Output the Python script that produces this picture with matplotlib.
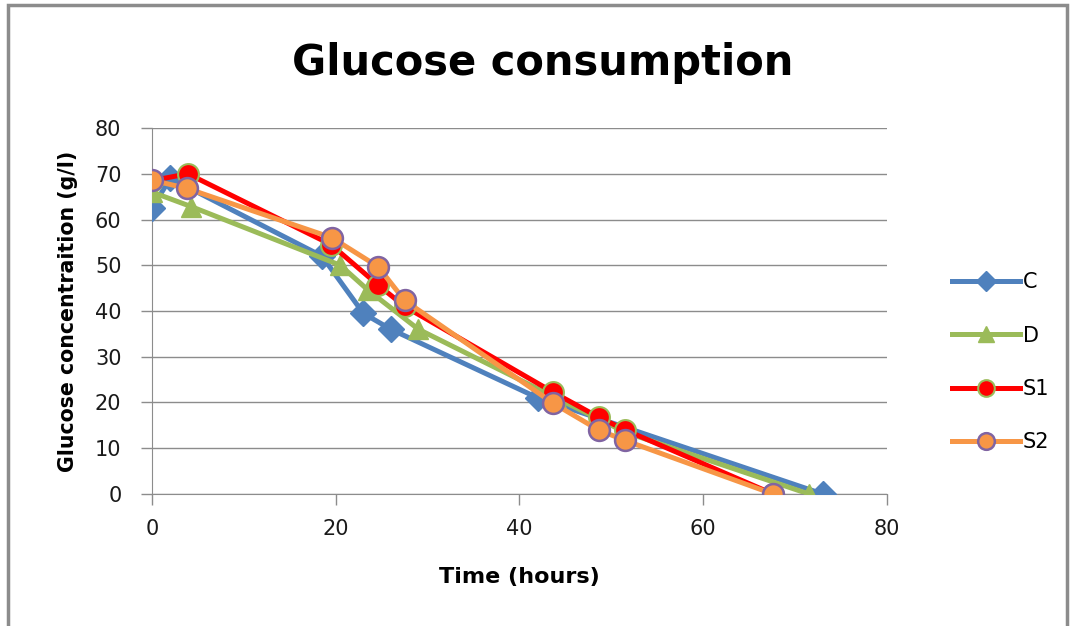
import matplotlib.pyplot as plt
from matplotlib.patches import Rectangle

# Glucose concentration (g/l) against time (hours) for four cultures
t_c = [0, 2, 18.5, 23, 26, 42, 73]
y_c = [62.5, 69, 52, 39.5, 36, 21, 0]

t_d = [0, 4.3, 20.5, 23.5, 29, 44, 51.5, 71.5]
y_d = [66, 62.8, 50, 44.6, 36, 21, 13.5, 0]

t_s1 = [0, 3.9, 19.5, 24.6, 27.5, 43.7, 48.6, 51.5, 67.6]
y_s1 = [68.5, 70, 54.5, 45.7, 41, 22.2, 16.8, 14, 0]

t_s2 = [0, 3.8, 19.6, 24.6, 27.5, 43.7, 48.6, 51.5, 67.6]
y_s2 = [68.6, 66.8, 56, 49.7, 42.3, 19.8, 14, 11.7, 0]

fig = plt.figure(figsize=(10.71, 6.26), dpi=100)
ax = fig.add_axes([0.1419, 0.2109, 0.6863, 0.5846])

lw = 3.6
ax.plot(t_c, y_c, color='#4F81BD', lw=lw, marker='D', ms=13,
        mfc='#4F81BD', mec='#4F81BD', label='C', zorder=3)
ax.plot(t_d, y_d, color='#9BBB59', lw=lw, marker='^', ms=15,
        mfc='#9BBB59', mec='#9BBB59', label='D', zorder=4)
ax.plot(t_s1, y_s1, color='#FF0000', lw=lw, marker='o', ms=15,
        mfc='#FF0000', mec='#9BBB59', mew=1.5, label='S1', zorder=5)
ax.plot(t_s2, y_s2, color='#F79646', lw=lw, marker='o', ms=15,
        mfc='#F79646', mec='#8064A2', mew=1.8, label='S2', zorder=6)

ax.set_xlim(0, 80)
ax.set_ylim(0, 80)
ax.set_xticks(range(0, 81, 20))
ax.set_yticks(range(0, 81, 10))
ax.grid(axis='y', color='#8C8C8C', lw=1)
ax.set_axisbelow(True)
for s in ['top', 'right']:
    ax.spines[s].set_visible(False)
ax.spines['left'].set_color('#8C8C8C')
ax.spines['bottom'].set_color('#8C8C8C')
ax.tick_params(colors='#8C8C8C', labelcolor='#1a1a1a', length=8, width=1,
               labelsize=15)
ax.tick_params(axis='x', pad=10)
ax.tick_params(axis='y', pad=14)

ax.set_xlabel('Time (hours)', fontsize=16, fontweight='bold', labelpad=20)
ax.set_ylabel('Glucose concentraition (g/l)', fontsize=14.8,
              fontweight='bold', labelpad=12)
fig.text(0.507, 0.9, 'Glucose consumption', ha='center', va='center',
         fontsize=30, fontweight='bold')

ax.legend(loc='center left', bbox_to_anchor=(1.088, 0.36), frameon=False,
          borderpad=0, borderaxespad=0, fontsize=15, handlelength=3.3,
          handletextpad=0.1, labelspacing=1.6, markerscale=0.8)

# chart frame
fig.patches.append(Rectangle((8 / 1071, -0.01), 1059 / 1071, 1 - 5 / 626 + 0.01,
                             transform=fig.transFigure, fill=False,
                             edgecolor='#8C8C8C', lw=2.5))

fig.savefig('out.png', dpi=100)
